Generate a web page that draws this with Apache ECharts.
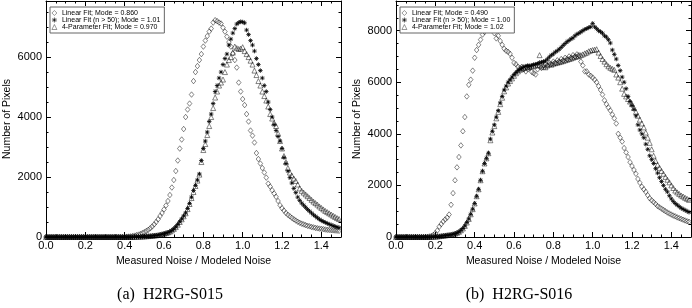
<!DOCTYPE html>
<html><head><meta charset="utf-8">
<script src="https://cdn.jsdelivr.net/npm/echarts@6/dist/echarts.min.js"></script>
<style>html,body{margin:0;padding:0;background:#fff}#c{width:692px;height:308px}</style>
</head><body><div id="c"></div>
<script>
// Histogram bins: x = i * BIN_WIDTH, i = 0..149 (0.00 .. 1.49)
const BIN_WIDTH = 0.01;
const BIN_COUNT = 150;

// ---- Panel (a) H2RG-S015 ----
const namesA = ['Linear Fit; Mode = 0.860', 'Linear Fit (n > 50); Mode = 1.01', '4-Parameter Fit; Mode = 0.970'];
const linearA = [
  0,0,0,0,0,0,0,0,0,0,
  0,0,0,0,0,0,0,0,0,0,
  0,0,0,0,0,0,0,0,0,0,
  0,0,0,0,0,0,0,0,0,0,
  0,10,15,20,30,45,60,80,100,130,
  160,200,240,290,350,420,500,590,700,800,
  920,1050,1200,1400,1650,1900,2200,2550,2950,3250,
  3600,4000,4250,4450,4750,5200,5500,5700,5900,6100,
  6350,6550,6700,6850,6950,7150,7230,7200,7150,7120,
  6980,6850,6680,6500,6350,6120,5900,5650,5150,4850,
  4600,4400,4100,3850,3550,3380,3150,2800,2600,2450,
  2300,2150,1980,1780,1680,1560,1450,1340,1200,1060,
  960,880,800,740,690,640,590,550,510,475,
  445,420,395,375,355,335,320,305,290,280,
  270,260,250,240,235,228,222,216,210,205
];
const linearN50A = [
  0,0,0,0,0,0,0,0,0,0,
  0,0,0,0,0,0,0,0,0,0,
  0,0,0,0,0,0,0,0,0,0,
  0,0,0,0,0,0,0,0,0,0,
  0,0,0,0,0,5,8,10,12,15,
  20,25,30,35,40,50,55,65,80,95,
  110,130,150,180,220,270,340,420,510,600,
  700,800,950,1120,1330,1550,1720,1900,2100,2550,
  2950,3200,3500,3850,4100,4450,4850,5050,5300,5500,
  5750,5950,6100,6400,6600,6800,6950,7100,7150,7180,
  7170,7140,6900,6750,6550,6400,6200,5950,5750,5550,
  5300,5050,4850,4500,4250,4000,3750,3550,3350,3200,
  2950,2650,2450,2200,1980,1800,1620,1480,1330,1220,
  1130,1060,990,920,860,800,740,690,640,590,
  550,515,485,455,425,400,375,350,330,310
];
const fourParamA = [
  0,0,0,0,0,0,0,0,0,0,
  0,0,0,0,0,0,0,0,0,0,
  0,0,0,0,0,0,0,0,0,0,
  0,0,0,0,0,0,0,0,0,0,
  0,0,0,0,0,5,8,10,12,15,
  20,25,30,35,40,50,55,65,80,95,
  110,130,150,180,220,270,330,410,500,590,
  690,790,930,1100,1300,1500,1700,1880,2080,2500,
  2900,3100,3400,3700,4000,4300,4650,4850,5050,5150,
  5250,5500,5750,5900,6000,6150,6350,6300,6270,6280,
  6330,6200,6100,6000,5880,5750,5550,5400,5200,5050,
  4850,4700,4550,4350,4100,3950,3800,3700,3450,3200,
  2950,2700,2500,2300,2150,2050,1950,1870,1750,1620,
  1540,1480,1420,1360,1300,1240,1180,1130,1080,1020,
  970,920,870,830,790,750,710,670,630,600
];

// ---- Panel (b) H2RG-S016 ----
const namesB = ['Linear Fit; Mode = 0.490', 'Linear Fit (n > 50); Mode = 1.00', '4-Parameter Fit; Mode = 1.02'];
const linearB = [
  0,0,0,0,0,0,0,0,0,0,
  0,0,0,0,0,0,10,20,40,80,
  150,250,400,500,600,680,750,870,1250,1700,
  2200,2700,3100,3550,4100,4650,5450,5900,6100,6450,
  6950,7250,7450,7650,7850,7950,8050,8090,8080,8060,
  7900,7700,7800,7600,7450,7300,7220,7180,7100,6950,
  6750,6700,6600,6550,6600,6500,6420,6500,6550,6400,
  6350,6300,6500,6600,6550,6650,6700,6650,6750,6700,
  6800,6750,6850,6800,6900,6850,6950,6900,7000,6950,
  7050,7000,7080,7050,6800,6650,6420,6420,6300,6250,
  6180,6100,6000,5850,5700,5520,5300,5150,5020,4900,
  4750,4600,4400,4000,3850,3700,3450,3280,3100,2900,
  2750,2600,2450,2250,2100,1950,1850,1750,1620,1500,
  1420,1350,1280,1200,1150,1100,1050,1000,950,910,
  870,830,800,760,730,700,670,640,610,590
];
const linearN50B = [
  0,0,0,0,0,0,0,0,0,0,
  0,0,0,0,0,0,0,0,5,10,
  15,20,30,40,50,60,70,80,90,110,
  130,160,200,260,330,430,560,700,880,1080,
  1300,1580,1850,2200,2550,2850,3050,3250,3800,4100,
  4350,4650,4900,5200,5450,5700,5850,6000,6100,6200,
  6300,6380,6450,6500,6550,6600,6620,6650,6620,6660,
  6680,6700,6720,6760,6780,6800,6830,6900,6980,7050,
  7100,7170,7220,7280,7350,7430,7500,7570,7620,7680,
  7720,7800,7860,7900,7950,8000,8050,8080,8120,8150,
  8280,8150,8080,8000,7960,7900,7800,7750,7650,7520,
  7250,7080,6900,6650,6450,6200,6000,5750,5450,5250,
  5100,4950,4700,4350,4150,4000,3850,3600,3400,3150,
  3000,2850,2650,2480,2300,2150,2000,1850,1750,1600,
  1480,1380,1300,1240,1180,1120,1080,1040,1000,960
];
const fourParamB = [
  0,0,0,0,0,0,0,0,0,0,
  0,0,0,0,0,0,0,0,5,10,
  15,20,30,40,50,60,70,80,90,110,
  130,160,200,260,330,430,560,700,880,1080,
  1300,1580,1850,2200,2550,2850,3050,3250,3750,4050,
  4300,4600,4850,5150,5400,5650,5800,5950,6050,6150,
  6250,6350,6420,6480,6520,6550,6580,6600,6620,6600,
  6640,6650,6680,7050,6650,6600,6580,6650,6700,6680,
  6720,6740,6760,6780,6800,6820,6850,6870,6900,6920,
  6950,6980,7000,7020,7050,7080,7120,7150,7200,7230,
  7250,7260,7280,7150,7020,6900,6800,6700,6620,6560,
  6520,6480,6300,6180,6000,5750,5550,5450,5350,5250,
  5150,5000,4850,4700,4550,4400,4250,4050,3850,3650,
  3400,3150,2950,2800,2680,2560,2450,2330,2220,2120,
  2000,1900,1800,1730,1670,1610,1570,1520,1480,1440
];

const xTickLabels = ['0.0','0.2','0.4','0.6','0.8','1.0','1.2','1.4'];
const yTickLabels = ['0','2000','4000','6000','8000'];
const captions = ['(a)  H2RG-S015', '(b)  H2RG-S016'];
const xTitle = 'Measured Noise / Modeled Noise';
const yTitle = 'Number of Pixels';

const binX = Array.from({length: BIN_COUNT}, (_, i) => Number((i * BIN_WIDTH).toFixed(2)));

const SANS = '"Liberation Sans", Arial, sans-serif';
const panels = [
  {left: 46, ymax: 7870, names: namesA, data: [linearA, linearN50A, fourParamA], caption: captions[0], capX: 170},
  {left: 396, ymax: 9150, names: namesB, data: [linearB, linearN50B, fourParamB], caption: captions[1], capX: 519}
];
const ASTERISK = 'path://M0,5L10,5M5,0L5,10M1.5,1.5L8.5,8.5M8.5,1.5L1.5,8.5';
const symbols = [
  {symbol: 'diamond', size: [4.5, 5.5], itemStyle: {color: 'rgba(0,0,0,0)', borderColor: '#000', borderWidth: 0.6}},
  {symbol: ASTERISK, size: 4.5, itemStyle: {color: 'rgba(0,0,0,0)', borderColor: '#000', borderWidth: 1}},
  {symbol: 'triangle', size: 5, itemStyle: {color: 'rgba(0,0,0,0)', borderColor: '#000', borderWidth: 0.6}}
];
const legendIcons = [
  {icon: 'diamond', itemStyle: {color: 'rgba(0,0,0,0)', borderColor: '#000', borderWidth: 0.5}},
  {icon: ASTERISK, itemStyle: {color: 'rgba(0,0,0,0)', borderColor: '#000', borderWidth: 0.8}},
  {icon: 'triangle', itemStyle: {color: 'rgba(0,0,0,0)', borderColor: '#000', borderWidth: 0.5}}
];

const grid = [], xAxis = [], yAxis = [], series = [], legend = [], graphic = [];
const lineStyle = {color: '#000', width: 1};

panels.forEach((p, pi) => {
  const gMajor = grid.length;
  grid.push({left: p.left, top: 1, width: 295, height: 236});
  grid.push({left: p.left, top: 1, width: 295, height: 236});
  const gMinor = gMajor + 1;
  const xMajorIdx = xAxis.length;
  xAxis.push({
    gridIndex: gMajor, type: 'value', position: 'bottom', min: 0, max: 1.5, interval: 0.2,
    axisLine: {show: true, onZero: false, lineStyle},
    axisTick: {show: true, inside: true, length: 5, lineStyle},
    axisLabel: {show: true, margin: 3, fontSize: 11, color: '#000', fontFamily: SANS,
      showMaxLabel: false, formatter: v => xTickLabels[Math.round(v / 0.2)] || ''},
    splitLine: {show: false},
    name: xTitle, nameLocation: 'middle', nameGap: 17,
    nameTextStyle: {fontSize: 10.5, color: '#000', fontFamily: SANS}
  });
  xAxis.push({
    gridIndex: gMajor, type: 'value', position: 'top', min: 0, max: 1.5, interval: 0.2,
    axisLine: {show: true, onZero: false, lineStyle},
    axisTick: {show: true, inside: true, length: 5, lineStyle},
    axisLabel: {show: false}, splitLine: {show: false}
  });
  ['bottom', 'top'].forEach(pos => xAxis.push({
    gridIndex: gMinor, type: 'value', position: pos, min: 0, max: 1.5, interval: 0.05,
    axisLine: {show: false, onZero: false},
    axisTick: {show: true, inside: true, length: 2.5, lineStyle},
    axisLabel: {show: false}, splitLine: {show: false}
  }));
  const yMajorIdx = yAxis.length;
  yAxis.push({
    gridIndex: gMajor, type: 'value', position: 'left', min: 0, max: p.ymax, interval: 2000,
    axisLine: {show: true, onZero: false, lineStyle},
    axisTick: {show: true, inside: true, length: 5, lineStyle},
    axisLabel: {show: true, margin: 4, fontSize: 11, color: '#000', fontFamily: SANS,
      showMaxLabel: false, formatter: v => yTickLabels[Math.round(v / 2000)] || ''},
    splitLine: {show: false},
    name: yTitle, nameLocation: 'middle', nameGap: 33,
    nameTextStyle: {fontSize: 10.5, color: '#000', fontFamily: SANS}
  });
  yAxis.push({
    gridIndex: gMajor, type: 'value', position: 'right', min: 0, max: p.ymax, interval: 2000,
    axisLine: {show: true, onZero: false, lineStyle},
    axisTick: {show: true, inside: true, length: 5, lineStyle},
    axisLabel: {show: false}, splitLine: {show: false}
  });
  ['left', 'right'].forEach(pos => yAxis.push({
    gridIndex: gMinor, type: 'value', position: pos, min: 0, max: p.ymax, interval: 500,
    axisLine: {show: false, onZero: false},
    axisTick: {show: true, inside: true, length: 2.5, lineStyle},
    axisLabel: {show: false}, splitLine: {show: false}
  }));
  p.data.forEach((arr, si) => {
    const s = symbols[si];
    series.push({
      type: 'scatter', name: p.names[si], xAxisIndex: xMajorIdx, yAxisIndex: yMajorIdx,
      symbol: s.symbol, symbolSize: s.size, itemStyle: s.itemStyle,
      data: binX.map((x, i) => [x, arr[i]]), animation: false, silent: true
    });
  });
  legend.push({
    left: p.left + 4, top: 7, orient: 'vertical', selectedMode: false,
    data: p.names.map((n, k) => Object.assign({name: n}, legendIcons[k])),
    itemWidth: 5, itemHeight: 5, itemGap: 0, padding: [2.5, 4, 2.5, 1.5],
    borderColor: '#666', borderWidth: 1, backgroundColor: '#fff',
    textStyle: {fontSize: 7, lineHeight: 6.3, color: '#000', fontFamily: SANS}
  });
  graphic.push({
    type: 'text', x: p.capX, y: 295, silent: true,
    style: {text: p.caption, font: '16px "Liberation Serif", "Times New Roman", serif', fill: '#000',
      align: 'center', verticalAlign: 'middle', textAlign: 'center', textVerticalAlign: 'middle'}
  });
});

const chart = echarts.init(document.getElementById('c'), null, {renderer: 'canvas'});
chart.setOption({animation: false, backgroundColor: '#fff', grid, xAxis, yAxis, series, legend, graphic});
</script>
</body></html>
